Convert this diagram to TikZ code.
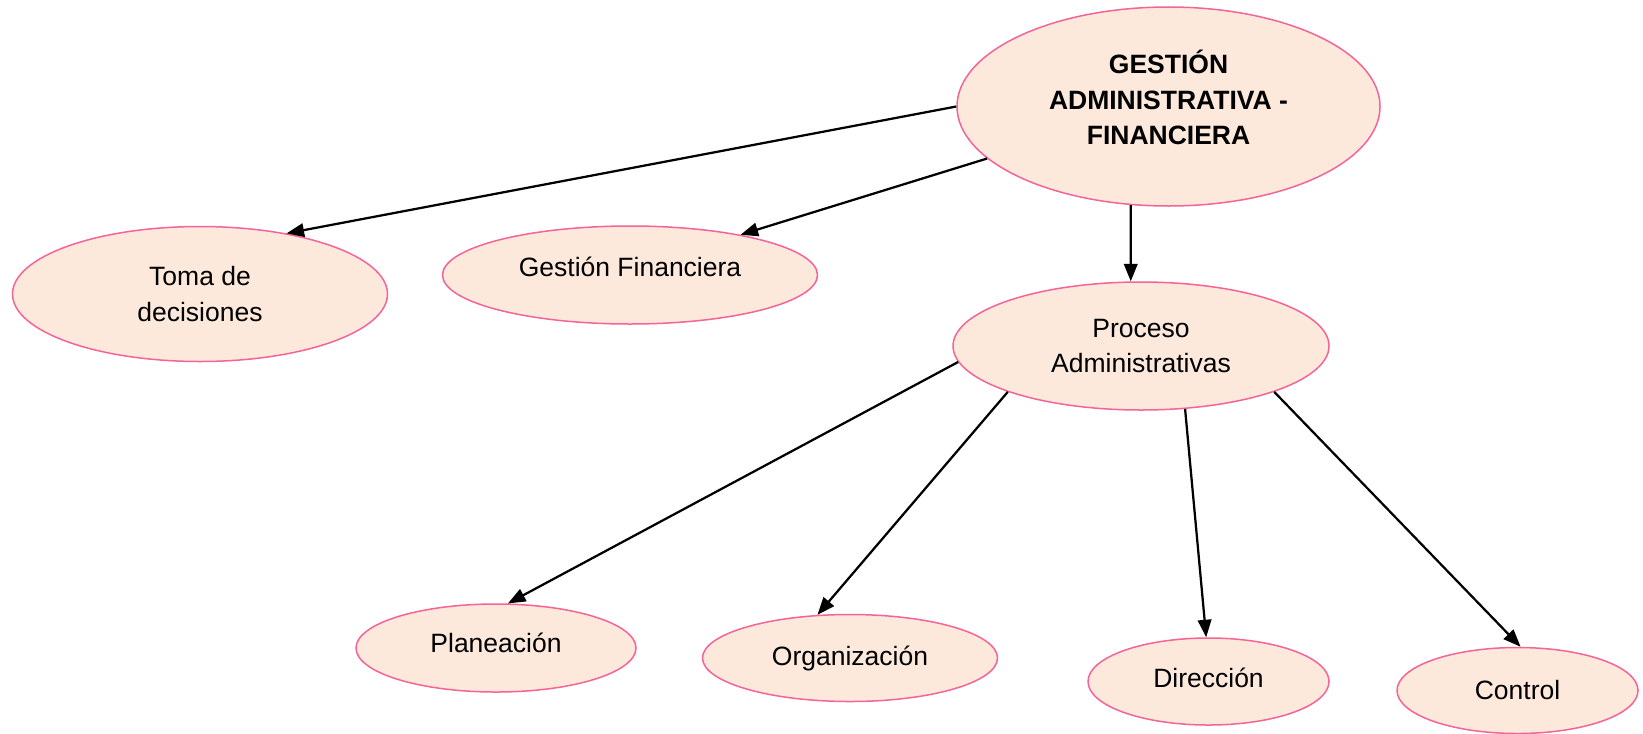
\documentclass[tikz,border=0pt]{standalone}
\usepackage{fontspec}
\setmainfont{Liberation Sans}
\usetikzlibrary{shapes.geometric,arrows.meta}
\definecolor{nodefill}{RGB}{252,233,220}
\definecolor{nodeline}{RGB}{245,100,150}

\begin{document}
\begin{tikzpicture}[x=0.4pt,y=-0.4pt,->,>={Triangle[length=7pt,width=5.4pt]},line width=0.9pt,
		font=\fontsize{10.6pt}{14.2pt}\selectfont]
		\tikzstyle{box}=[ellipse,draw=nodeline,fill=nodefill,line width=0.6pt,inner sep=0pt,align=center]
		\tikzstyle{main box}=[box,font=\fontsize{10.6pt}{14.2pt}\selectfont\bfseries]
		\useasboundingbox (0,0) rectangle (1643,733);
		
		% Draw the main node
		\node[main box, minimum width=169.2pt, minimum height=79.6pt, text depth=7.2pt] (gest) at (1168.5,106.5)
		{GESTIÓN\\ADMINISTRATIVA -\\FINANCIERA};
		
		% Draw the second level nodes
		\node[box, minimum width=150pt, minimum height=54pt] (toma) at (200,294) {Toma de\\decisiones};
		\node[box, minimum width=150pt, minimum height=39.2pt, text depth=6.4pt] (gf) at (630,275) {Gestión Financiera};
		\node[box, minimum width=150.4pt, minimum height=51.2pt] (proc) at (1141,346) {Proceso\\Administrativas};
		
		% Draw the process steps
		\node[box, minimum width=112pt, minimum height=35.2pt, text depth=4pt] (plan) at (496,648) {Planeación};
		\node[box, minimum width=118pt, minimum height=34.8pt] (org) at (850,658) {Organización};
		\node[box, minimum width=96.4pt, minimum height=34.8pt, text depth=3.4pt] (dir) at (1208.5,681.5) {Dirección};
		\node[box, minimum width=96.4pt, minimum height=34.4pt] (ctrl) at (1517.5,690.5) {Control};
		
		% Connect the main node with the second level
		\path (gest.west) edge (toma.35);
		\path (gest.196) edge (gf.20);
		\path (gest.249) edge (proc.99);
		% Connect the process with every step
		\foreach \dest/\from/\to in {plan/185/75, org/199/127, dir/305/93, ctrl/341/86}
		\path (proc.\from) edge (\dest.\to);
	\end{tikzpicture}
\end{document}
